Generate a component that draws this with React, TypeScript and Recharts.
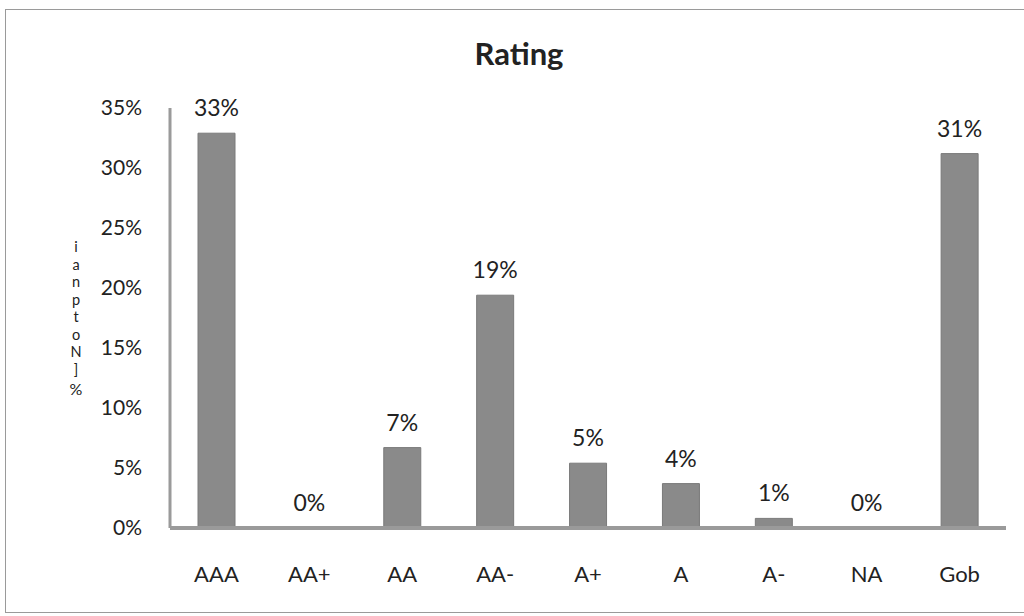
import React from "react";
import { ComposedChart, Bar, Line, XAxis, YAxis, LabelList, Label } from "recharts";

const categories = ["AAA", "AA+", "AA", "AA-", "A+", "A", "A-", "NA", "Gob"];
const shares = [32.9, 0, 6.7, 19.4, 5.4, 3.7, 0.8, 0, 31.2];
const yTicks = [0, 5, 10, 15, 20, 25, 30, 35];
const yLabelGlyphs = ["i", "a", "n", "p", "t", "o", "N", "]", "%"];

const data = categories.map((c, i) => ({ name: c, value: shares[i] }));

const FONT = "Lato, 'Open Sans', sans-serif";

const YLabel = () => (
  <g>
    {yLabelGlyphs.map((g, i) => (
      <text
        key={i}
        x={76}
        y={252 + i * 17.5 + (g === "%" ? 3 : 0)}
        textAnchor="middle"
        fontFamily={FONT}
        fontSize={g === "%" ? 16 : 14.5}
        fill="#222"
      >
        {g}
      </text>
    ))}
  </g>
);

export default function App() {
  return (
    <div style={{ position: "absolute", left: 0, top: 0, width: 1024, height: 616, background: "#fff" }}>
      <div
        style={{
          position: "absolute",
          left: 5,
          top: 9,
          width: 1030,
          height: 604,
          border: "1.5px solid #9a9a9a",
          boxSizing: "border-box",
        }}
      />
      <div
        style={{
          position: "absolute",
          left: 419,
          width: 200,
          top: 34,
          textAlign: "center",
          fontFamily: FONT,
          fontWeight: 700,
          fontSize: 31,
          color: "#222",
        }}
      >
        Rating
      </div>
      <ComposedChart
        width={1024}
        height={616}
        data={data}
        margin={{ top: 108, right: 18, bottom: 58, left: 110 }}
        style={{ position: "absolute", left: 0, top: 0 }}
      >
        <XAxis
          dataKey="name"
          axisLine={{ stroke: "#9a9a9a", strokeWidth: 4 }}
          tickLine={false}
          tickSize={0}
          tickMargin={38}
          tick={{ fontFamily: FONT, fontSize: 22, fill: "#222" }}
        />
        <YAxis
          domain={[0, 35]}
          ticks={yTicks}
          width={60}
          axisLine={{ stroke: "#9a9a9a", strokeWidth: 3 }}
          tickLine={false}
          tickSize={0}
          tickMargin={28}
          tickFormatter={(v: number) => `${v}%`}
          tick={{ fontFamily: FONT, fontSize: 21, fill: "#222" }}
        >
          <Label content={<YLabel />} />
        </YAxis>
        <Bar dataKey="value" fill="#8a8a8a" stroke="#7a7a7a" strokeWidth={1} barSize={37} isAnimationActive={false} />
        <Line dataKey="value" stroke="none" dot={false} activeDot={false} isAnimationActive={false}>
          <LabelList
            dataKey="value"
            position="top"
            offset={17}
            formatter={(v: number) => `${Math.round(v)}%`}
            style={{ fontFamily: FONT, fontSize: 23, fill: "#222" }}
          />
        </Line>
      </ComposedChart>
    </div>
  );
}
